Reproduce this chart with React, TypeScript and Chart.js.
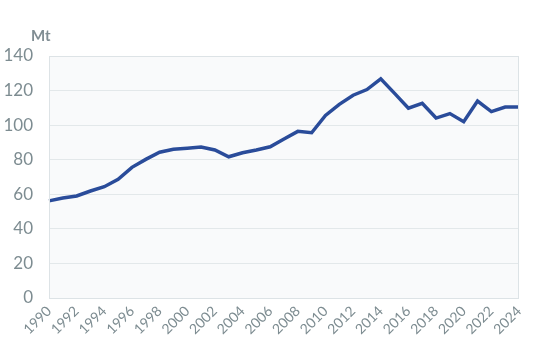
import React, { useEffect, useRef } from "react";
import { Chart, registerables } from "chart.js";

Chart.register(...registerables);

const years: string[] = [
  "1990","1991","1992","1993","1994","1995","1996","1997","1998","1999",
  "2000","2001","2002","2003","2004","2005","2006","2007","2008","2009",
  "2010","2011","2012","2013","2014","2015","2016","2017","2018","2019",
  "2020","2021","2022","2023","2024",
];
const values: number[] = [
  56.2, 57.8, 59.0, 61.9, 64.4, 68.6, 75.6, 80.2, 84.3, 86.0,
  86.6, 87.3, 85.6, 81.7, 84.0, 85.6, 87.5, 92.0, 96.4, 95.6,
  105.6, 112.0, 117.3, 120.6, 126.8, 118.4, 109.8, 112.6, 104.1, 106.7,
  102.0, 113.9, 107.8, 110.5, 110.5,
];
const unitLabel = "Mt";
const yMax = 140;
const yStep = 20;

const TEXT = "#7d8c91";
const FONT = "Lato, 'Open Sans', sans-serif";

export default function App() {
  const ref = useRef<HTMLCanvasElement | null>(null);
  useEffect(() => {
    document.body.style.margin = "0";
    const bgPlugin = {
      id: "bg",
      beforeDraw(chart: any) {
        const { ctx, chartArea: a } = chart;
        ctx.save();
        ctx.fillStyle = "#f9fafb";
        ctx.fillRect(a.left, a.top, a.right - a.left, a.bottom - a.top);
        ctx.restore();
      },
      afterDraw(chart: any) {
        const { ctx, chartArea: a } = chart;
        ctx.save();
        ctx.strokeStyle = "#dde3e6";
        ctx.lineWidth = 1;
        ctx.strokeRect(a.left + 0.5, a.top + 0.5, a.right - a.left - 1, a.bottom - a.top);
        ctx.fillStyle = "#808d93";
        ctx.font = `bold 15px ${FONT}`;
        ctx.textAlign = "left";
        ctx.textBaseline = "middle";
        ctx.fillText(unitLabel, 31, 36);
        ctx.restore();
      },
    };
    const chart = new Chart(ref.current!, {
      type: "line",
      data: {
        labels: years,
        datasets: [
          {
            data: values,
            borderColor: "#2a4c9a",
            borderWidth: 3.5,
            pointRadius: 0,
            tension: 0,
            fill: false,
          },
        ],
      },
      options: {
        animation: false,
        responsive: false,
        maintainAspectRatio: false,
        layout: { padding: { top: 56, right: 28, left: 0, bottom: 0 } },
        plugins: { legend: { display: false }, tooltip: { enabled: false } },
        scales: {
          x: {
            offset: false,
            grid: { display: false, drawTicks: false },
            border: { display: false },
            ticks: {
              autoSkip: false,
              minRotation: 45,
              maxRotation: 45,
              padding: 5,
              color: TEXT,
              font: { family: FONT, size: 14 },
              callback: function (this: any, _v: any, i: number) {
                return i % 2 === 0 ? years[i] : null;
              },
            },
            afterFit(scale: any) {
              scale.height = 58;
            },
          },
          y: {
            min: 0,
            max: yMax,
            grid: { color: "#e3e8ea", drawTicks: false, lineWidth: 1 },
            border: { display: false },
            ticks: {
              stepSize: yStep,
              padding: 16,
              color: TEXT,
              font: { family: FONT, size: 17 },
            },
            afterFit(scale: any) {
              scale.width = 49;
            },
          },
        },
      },
      plugins: [bgPlugin],
    });
    return () => chart.destroy();
  }, []);
  return (
    <div style={{ position: "absolute", left: 0, top: 0, width: 547, height: 356 }}>
      <canvas ref={ref} width={547} height={356} style={{ width: 547, height: 356 }} />
    </div>
  );
}
